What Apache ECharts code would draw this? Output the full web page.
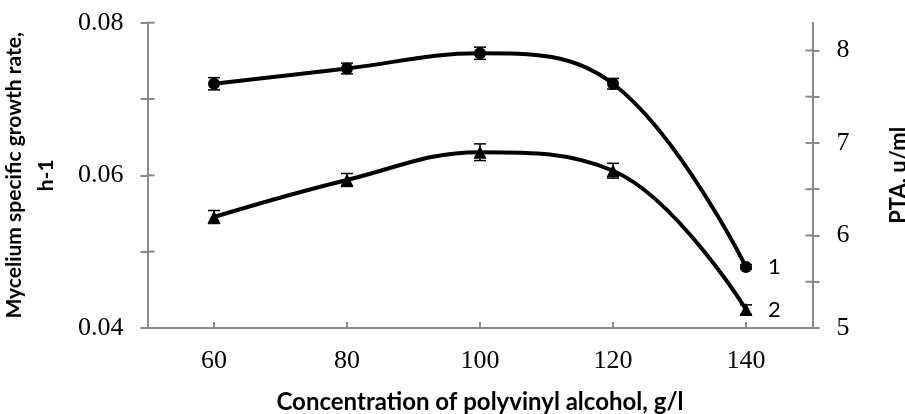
<!DOCTYPE html>
<html lang="en">
<head>
	<meta charset="UTF-8">
	<title>Growth rate and PTA</title>
	<style type="text/css">
		html, body { margin: 0; padding: 0; background: #fff; }
		#main { width: 905px; height: 414px; }
	</style>
	<script type="text/javascript" src="https://cdn.jsdelivr.net/npm/echarts@6/dist/echarts.min.js"></script>
</head>
<body>
	<div id="main"></div>
	<script type="text/javascript">
var categories = ['60', '80', '100', '120', '140'];
// curve 1: mycelium specific growth rate (left axis)
var growthRate = [0.072, 0.074, 0.076, 0.072, 0.048];
var growthErr = [0.0008, 0.0007, 0.0008, 0.0007, 0.0003];
// curve 2: PTA (right axis)
var pta = [6.2, 6.6, 6.9, 6.7, 5.2];
var ptaErr = [0.07, 0.07, 0.09, 0.08, 0.05];

var leftTicks = [0.04, 0.05, 0.06, 0.07, 0.08];
var leftLabels = [0.04, 0.06, 0.08];
var rightTicks = [5, 5.5, 6, 6.5, 7, 7.5, 8];
var rightLabels = [5, 6, 7, 8];

var chart = echarts.init(document.getElementById('main'));

var axisGray = '#898989';
var serif = 'Liberation Serif';
var sans = 'Lato';

// error bars, drawn with a custom series
function errorBars(values, errs, yIndex) {
    return {
        type: 'custom',
        xAxisIndex: 0,
        yAxisIndex: yIndex,
        z: 4,
        silent: true,
        renderItem: function (params, api) {
            var i = api.value(0), v = api.value(1), e = api.value(2);
            var top = api.coord([i, v + e]);
            var bot = api.coord([i, v - e]);
            var w = 6;
            var st = { stroke: '#000', lineWidth: 1.5 };
            return {
                type: 'group',
                children: [
                    { type: 'line', shape: { x1: top[0], y1: top[1], x2: bot[0], y2: bot[1] }, style: st },
                    { type: 'line', shape: { x1: top[0] - w, y1: top[1], x2: top[0] + w, y2: top[1] }, style: st },
                    { type: 'line', shape: { x1: bot[0] - w, y1: bot[1], x2: bot[0] + w, y2: bot[1] }, style: st }
                ]
            };
        },
        data: values.map(function (v, i) { return [i, v, errs[i]]; })
    };
}

// inner halves of the ticks that cross the y axes (one item per tick)
function innerYTicks(ticks, yIndex, side) {
    return {
        type: 'custom',
        xAxisIndex: 0,
        yAxisIndex: yIndex,
        silent: true,
        clip: false,
        z: 1,
        renderItem: function (params, api) {
            var band = api.size([1, 0])[0];
            var p = api.coord([side === 'left' ? 0 : categories.length - 1, api.value(1)]);
            var x0 = side === 'left' ? p[0] - band / 2 : p[0] + band / 2;
            var x1 = side === 'left' ? x0 + 7 : x0 - 7;
            return { type: 'line', shape: { x1: x0, y1: p[1], x2: x1, y2: p[1] }, style: { stroke: axisGray, lineWidth: 2 } };
        },
        data: ticks.map(function (v) { return [0, v, 0]; })
    };
}

// inner halves of the ticks that cross the x axis
function innerXTicks() {
    return {
        type: 'custom',
        xAxisIndex: 0,
        yAxisIndex: 0,
        silent: true,
        clip: false,
        z: 1,
        renderItem: function (params, api) {
            var p = api.coord([api.value(0), api.value(1)]);
            return { type: 'line', shape: { x1: p[0], y1: p[1], x2: p[0], y2: p[1] - 6 }, style: { stroke: axisGray, lineWidth: 2 } };
        },
        data: categories.map(function (c, i) { return [i, leftTicks[0], 0]; })
    };
}

function lineSeries(values, yIndex, symbol, size, tag) {
    return {
        type: 'line',
        xAxisIndex: 0,
        yAxisIndex: yIndex,
        data: values,
        smooth: 0.4,
        symbol: symbol,
        symbolSize: size,
        z: 5,
        lineStyle: { color: '#000', width: 4 },
        itemStyle: { color: '#000' },
        endLabel: {
            show: true,
            formatter: tag,
            distance: 22,
            color: '#000',
            fontFamily: sans,
            fontSize: 22
        }
    };
}

chart.setOption({
    animation: false,
    grid: { left: 147.5, right: 92.5, top: 22.7, bottom: 86, outerBoundsMode: 'none', containLabel: false },
    xAxis: {
        type: 'category',
        data: categories,
        boundaryGap: true,
        name: 'Concentration of polyvinyl alcohol, g/l',
        nameLocation: 'middle',
        nameGap: 62,
        nameTextStyle: { fontFamily: sans, fontWeight: 'bold', fontSize: 24, color: '#000' },
        axisLine: { show: true, lineStyle: { color: axisGray, width: 2 } },
        axisTick: { alignWithLabel: true, length: 6, lineStyle: { color: axisGray, width: 2 } },
        axisLabel: { fontFamily: serif, fontSize: 26, color: '#000', margin: 20 },
        splitLine: { show: false }
    },
    yAxis: [{
        type: 'value',
        position: 'left',
        min: 0.04,
        max: 0.08,
        name: 'Mycelium specific growth rate,\nh-1',
        nameLocation: 'middle',
        nameGap: 85,
        nameTextStyle: { fontFamily: sans, fontWeight: 'bold', fontSize: 21, color: '#000', lineHeight: 32 },
        axisLine: { show: true, lineStyle: { color: axisGray, width: 2 } },
        axisTick: { show: true, length: 7, customValues: leftTicks, lineStyle: { color: axisGray, width: 2 } },
        axisLabel: {
            fontFamily: serif, fontSize: 26, color: '#000', margin: 24,
            customValues: leftLabels,
            formatter: function (v) { return v.toFixed(2); }
        },
        splitLine: { show: false }
    }, {
        type: 'value',
        position: 'right',
        min: 5,
        max: 8.3,
        name: 'PTA, u/ml',
        nameLocation: 'middle',
        nameRotate: 90,
        nameGap: 75,
        nameTextStyle: { fontFamily: sans, fontWeight: 'bold', fontSize: 22, color: '#000' },
        axisLine: { show: true, lineStyle: { color: axisGray, width: 2 } },
        axisTick: { show: true, length: 7, customValues: rightTicks, lineStyle: { color: axisGray, width: 2 } },
        axisLabel: {
            fontFamily: serif, fontSize: 26, color: '#000', margin: 24,
            customValues: rightLabels
        },
        splitLine: { show: false }
    }],
    series: [
        innerYTicks(leftTicks, 0, 'left'),
        innerYTicks(rightTicks, 1, 'right'),
        innerXTicks(),
        lineSeries(growthRate, 0, 'circle', 12, '1'),
        errorBars(growthRate, growthErr, 0),
        lineSeries(pta, 1, 'triangle', 13, '2'),
        errorBars(pta, ptaErr, 1)
    ]
});
	</script>
</body>
</html>
